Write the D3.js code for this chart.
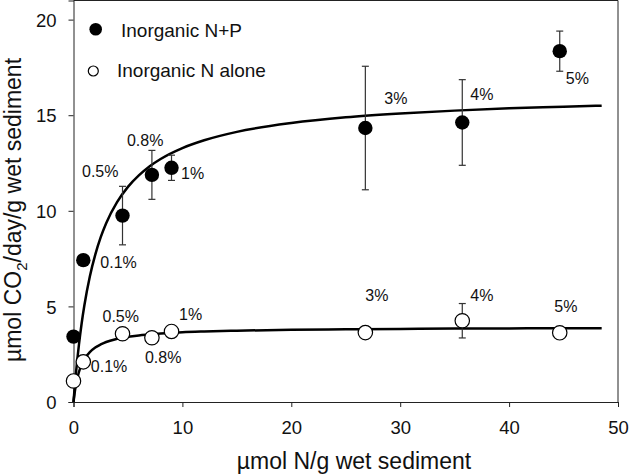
<!DOCTYPE html>
<html>
<head>
<meta charset="utf-8">
<script src="https://cdn.jsdelivr.net/npm/d3@7"></script>
<style>
  html, body { margin: 0; padding: 0; background: #fff; }
  svg { display: block; font-family: "Liberation Sans", Arial, sans-serif; }
</style>
</head>
<body>
<svg id="chart" width="630" height="475"></svg>
<script>
// ---- data ----
const xValues = [0, 0.9, 4.5, 7.2, 9.0, 26.8, 35.7, 44.65];
const pctLabels = ["", "0.1%", "0.5%", "0.8%", "1%", "3%", "4%", "5%"];
const npValues = [3.42, 7.42, 9.75, 11.88, 12.25, 14.33, 14.62, 18.35];
const npErrors = [0, 0, 1.53, 1.28, 0.66, 3.23, 2.24, 1.05];
const nValues = [1.1, 2.1, 3.57, 3.36, 3.69, 3.63, 4.25, 3.62];
const nErrors = [0, 0, 0, 0, 0, 0, 0.9, 0];
// fitted curves
const fitX = [0, 0.1, 0.25, 0.5, 0.75, 1, 1.5, 2, 2.5, 3, 4, 5, 6, 7, 8, 10, 12, 15, 20, 25, 30, 35, 40, 45, 48.5];
const npFit = [0, 0.70, 1.65, 3.0, 4.12, 5.06, 6.57, 7.71, 8.62, 9.35, 10.45, 11.25, 11.85, 12.33, 12.71, 13.28, 13.69, 14.13, 14.59, 14.89, 15.09, 15.24, 15.36, 15.44, 15.50];
const nFit = [0, 0.46, 0.98, 1.57, 1.96, 2.24, 2.61, 2.85, 3.01, 3.14, 3.30, 3.41, 3.48, 3.53, 3.58, 3.65, 3.69, 3.73, 3.78, 3.80, 3.82, 3.84, 3.85, 3.86, 3.86];
const xTicks = [0, 10, 20, 30, 40, 50];
const yTicks = [0, 5, 10, 15, 20];
const seriesNames = ["Inorganic N+P", "Inorganic N alone"];

// ---- layout ----
const svg = d3.select("#chart");
const x = d3.scaleLinear().domain([0, 50]).range([73.5, 618]);
const y = d3.scaleLinear().domain([0, 21]).range([402, 0.5]);
const axisColor = "#222";

// frame (top and right)
svg.append("path")
  .attr("d", `M${x(0)},${y(21)}H${x(50)}V${y(0)}`)
  .attr("fill", "none").attr("stroke", axisColor).attr("stroke-width", 1);

const xAxis = svg.append("g").attr("transform", `translate(0,${y(0)})`)
  .call(d3.axisBottom(x).tickValues(xTicks).tickFormat(d3.format("d")).tickSize(5).tickPadding(14));
const yAxis = svg.append("g").attr("transform", `translate(${x(0)},0)`)
  .call(d3.axisLeft(y).tickValues(yTicks).tickFormat(d3.format("d")).tickSize(5).tickPadding(12));
[xAxis, yAxis].forEach(g => {
  g.select(".domain").attr("stroke", axisColor);
  g.selectAll(".tick line").attr("stroke", axisColor);
  g.selectAll(".tick text").attr("fill", "#111").style("font-size", "18.5px")
    .style("font-family", '"Liberation Sans", Arial, sans-serif');
});
yAxis.selectAll(".tick text").attr("dy", "0.36em");

// axis titles
svg.append("text").attr("x", 354).attr("y", 469).attr("text-anchor", "middle")
  .style("font-size", "23px").attr("fill", "#111").text("µmol N/g wet sediment");
const yt = svg.append("text").attr("transform", "translate(21,210) rotate(-90)")
  .attr("text-anchor", "middle").style("font-size", "23px").attr("fill", "#111");
yt.append("tspan").text("µmol CO");
yt.append("tspan").attr("dy", 6).style("font-size", "15px").text("2");
yt.append("tspan").attr("dy", -6).text("/day/g wet sediment");

// fitted curves
const line = d3.line().x((d, i) => x(fitX[i])).y(d => y(d)).curve(d3.curveMonotoneX);
svg.append("path").datum(npFit).attr("d", line).attr("fill", "none").attr("stroke", "#000").attr("stroke-width", 2.5);
svg.append("path").datum(nFit).attr("d", line).attr("fill", "none").attr("stroke", "#000").attr("stroke-width", 2.5);

// error bars
function errorBars(vals, errs) {
  const g = svg.append("g").attr("stroke", "#333").attr("stroke-width", 1.2);
  xValues.forEach((xv, i) => {
    if (!errs[i]) return;
    const cx = x(xv), y1 = y(vals[i] + errs[i]), y2 = y(vals[i] - errs[i]);
    g.append("line").attr("x1", cx).attr("x2", cx).attr("y1", y1).attr("y2", y2);
    g.append("line").attr("x1", cx - 3.5).attr("x2", cx + 3.5).attr("y1", y1).attr("y2", y1);
    g.append("line").attr("x1", cx - 3.5).attr("x2", cx + 3.5).attr("y1", y2).attr("y2", y2);
  });
}
errorBars(npValues, npErrors);
errorBars(nValues, nErrors);

// points
svg.append("g").selectAll("circle").data(nValues).join("circle")
  .attr("cx", (d, i) => x(xValues[i])).attr("cy", d => y(d)).attr("r", 7.2)
  .attr("fill", "#fff").attr("stroke", "#000").attr("stroke-width", 1.2);
svg.append("g").selectAll("circle").data(npValues).join("circle")
  .attr("cx", (d, i) => x(xValues[i])).attr("cy", d => y(d)).attr("r", 7.2)
  .attr("fill", "#000");

// percentage labels (offsets per point)
const npLabelOffsets = [null, [17, 8], [-40.5, -38.5], [-25, -29], [9.5, 11], [19, -24], [8, -22.5], [6, 33]];
const nLabelOffsets = [null, [7.5, 10], [-20, -11.5], [-7, 25], [7.5, -11], [0, -31.5], [8, -19.5], [-5.5, -21]];
const lblG = svg.append("g").style("font-size", "16px").attr("fill", "#111");
pctLabels.forEach((t, i) => {
  if (!t) return;
  const o1 = npLabelOffsets[i];
  lblG.append("text").attr("x", x(xValues[i]) + o1[0]).attr("y", y(npValues[i]) + o1[1]).text(t);
  const o2 = nLabelOffsets[i];
  lblG.append("text").attr("x", x(xValues[i]) + o2[0]).attr("y", y(nValues[i]) + o2[1]).text(t);
});

// legend
const leg = svg.append("g").style("font-size", "19px").attr("fill", "#111");
leg.append("circle").attr("cx", 95.7).attr("cy", 29.3).attr("r", 6.3).attr("fill", "#000");
leg.append("text").attr("x", 121).attr("y", 37).text(seriesNames[0]);
leg.append("circle").attr("cx", 93.3).attr("cy", 71).attr("r", 5).attr("fill", "#fff").attr("stroke", "#000").attr("stroke-width", 1.2);
leg.append("text").attr("x", 117).attr("y", 77).text(seriesNames[1]);
</script>
</body>
</html>
